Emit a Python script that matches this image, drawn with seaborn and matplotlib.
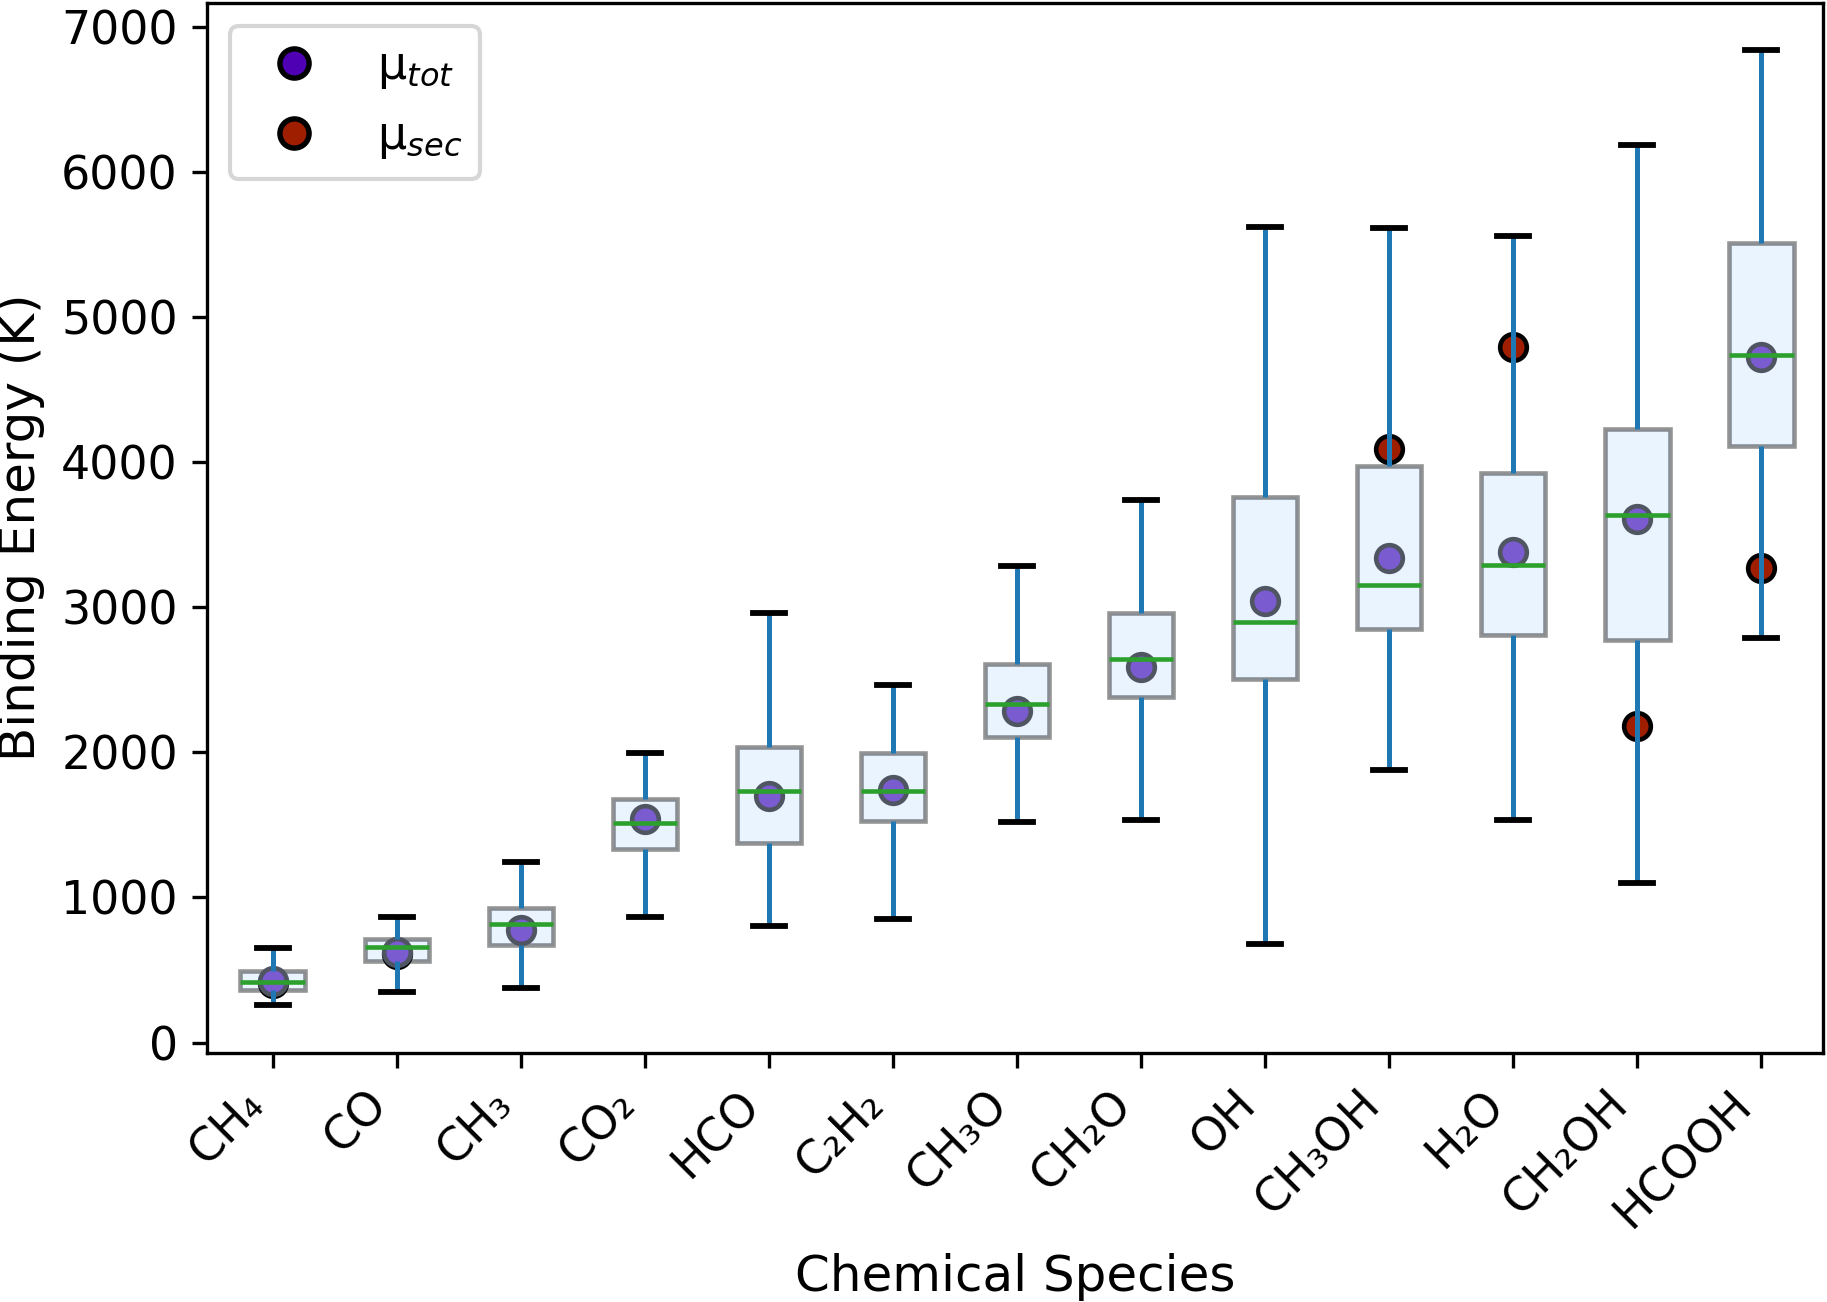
import numpy as np
import pandas as pd
import seaborn as sns
import matplotlib.pyplot as plt
from matplotlib.lines import Line2D

# Binding energy statistics per species (K)
species = ["CH₄", "CO", "CH₃", "CO₂", "HCO", "C₂H₂", "CH₃O", "CH₂O",
           "OH", "CH₃OH", "H₂O", "CH₂OH", "HCOOH"]
be_min = [260, 350, 374, 862, 806, 851, 1520, 1535, 678, 1875, 1531, 1100, 2788]
be_q1 = [360, 561, 672, 1331, 1378, 1528, 2104, 2381, 2508, 2852, 2812, 2777, 4113]
be_median = [417, 659, 819, 1515, 1734, 1734, 2334, 2642, 2899, 3156, 3290, 3639, 4741]
be_q3 = [492, 714, 930, 1681, 2037, 1992, 2611, 2958, 3757, 3975, 3923, 4227, 5512]
be_max = [652, 864, 1246, 1995, 2959, 2466, 3283, 3737, 5623, 5611, 5560, 6184, 6838]
mu_tot = [425, 627, 774, 1544, 1700, 1739, 2282, 2587, 3042, 3338, 3378, 3607, 4722]
mu_sec = [410, 612, np.nan, np.nan, np.nan, np.nan, np.nan, np.nan,
          np.nan, 4093, 4793, 2184, 3271]


def make_plot(output_path="out.png"):
    # five values per species -> quartiles land exactly on q1/median/q3
    rows = []
    for i, sp in enumerate(species):
        for v in (be_min[i], be_q1[i], be_median[i], be_q3[i], be_max[i]):
            rows.append({"species": sp, "energy": v})
    df = pd.DataFrame(rows)

    fig, ax = plt.subplots(figsize=(1827 / 300, 1302 / 300), dpi=300)
    fig.subplots_adjust(left=0.1133, right=0.998, top=0.998, bottom=0.1916)

    sns.boxplot(data=df, x="species", y="energy", order=species,
                whis=(0, 100), width=0.52, showfliers=False, ax=ax,
                boxprops=dict(facecolor="#eaf4fe", edgecolor=(0, 0, 0, 0.42),
                              linewidth=1.1, zorder=2),
                whiskerprops=dict(color="#1f77b4", linewidth=1.2, zorder=3),
                capprops=dict(color="black", linewidth=1.4, zorder=3),
                medianprops=dict(color="#2ca02c", linewidth=1.1, zorder=2.5))

    # secondary-site means (behind the total means)
    sns.stripplot(x=species, y=mu_sec, order=species, jitter=False,
                  size=6.4, color="#a01e00", edgecolor="black", linewidth=1.1,
                  zorder=2.2, ax=ax)
    # total means
    sns.stripplot(x=species, y=mu_tot, order=species, jitter=False,
                  size=6.4, color="#7b5bd0", edgecolor="#4f5561", linewidth=1.1,
                  zorder=2.3, ax=ax)

    handles = [
        Line2D([], [], linestyle="none", marker="o", markersize=7,
               markerfacecolor="#5000b4", markeredgecolor="black",
               markeredgewidth=1.3),
        Line2D([], [], linestyle="none", marker="o", markersize=7,
               markerfacecolor="#a01e00", markeredgecolor="black",
               markeredgewidth=1.3),
    ]
    ax.legend(handles, ["μ$_{tot}$", "μ$_{sec}$"], loc="upper left", fontsize=11)

    ax.set_xlim(-0.53, len(species) - 0.5)
    ax.set_xticks(range(len(species)))
    ax.set_xticklabels(species, rotation=45, ha="right")
    ax.tick_params(labelsize=11)
    ax.set_xlabel("Chemical Species", fontsize=12)
    ax.set_ylabel("Binding Energy (K)", fontsize=12)

    plt.savefig(output_path, dpi=300)
    plt.close()


if __name__ == "__main__":
    make_plot()
